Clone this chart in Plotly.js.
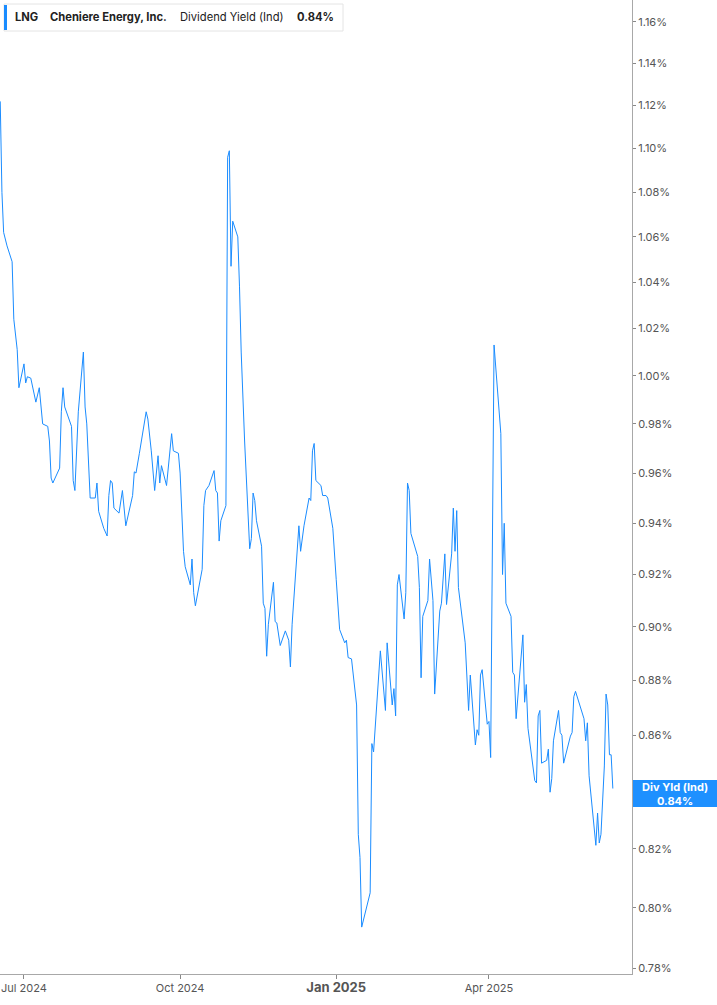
<!DOCTYPE html>
<html>
<head>
<meta charset="utf-8">
<script src="https://cdn.plot.ly/plotly-3.0.1.min.js"></script>
<style>
html,body{margin:0;padding:0;background:#fff;}
#chart{width:717px;height:1005px;}
</style>
</head>
<body>
<div id="chart"></div>
<script>
const ticker = "LNG";
const company = "Cheniere Energy, Inc.";
const metric = "Dividend Yield (Ind)";
const lastLabel = "0.84%";

const dates = [
"2024-06-17","2024-06-18","2024-06-19","2024-06-21","2024-06-24","2024-06-25","2024-06-27","2024-06-28",
"2024-07-01","2024-07-02","2024-07-03","2024-07-05","2024-07-08","2024-07-10","2024-07-12","2024-07-15",
"2024-07-16","2024-07-17","2024-07-18","2024-07-22","2024-07-23","2024-07-24","2024-07-25","2024-07-29",
"2024-07-30","2024-07-31","2024-08-02","2024-08-05","2024-08-06","2024-08-07","2024-08-09","2024-08-12",
"2024-08-13","2024-08-14","2024-08-17","2024-08-19","2024-08-20","2024-08-21","2024-08-22","2024-08-23",
"2024-08-26","2024-08-28","2024-08-30","2024-09-03","2024-09-04","2024-09-05","2024-09-07","2024-09-11",
"2024-09-12","2024-09-14","2024-09-16","2024-09-18","2024-09-19","2024-09-20","2024-09-23","2024-09-24",
"2024-09-25","2024-09-26","2024-09-27","2024-09-30","2024-10-01","2024-10-02","2024-10-03","2024-10-04",
"2024-10-07","2024-10-08","2024-10-09","2024-10-10","2024-10-14","2024-10-15","2024-10-16","2024-10-18",
"2024-10-21","2024-10-22","2024-10-23","2024-10-24","2024-10-25","2024-10-28","2024-10-29","2024-10-30",
"2024-10-31","2024-11-01","2024-11-04","2024-11-05","2024-11-06","2024-11-08","2024-11-11","2024-11-12",
"2024-11-13","2024-11-14","2024-11-15","2024-11-18","2024-11-19","2024-11-20","2024-11-21","2024-11-22",
"2024-11-25","2024-11-26","2024-11-27","2024-11-29","2024-12-02","2024-12-04","2024-12-05","2024-12-06",
"2024-12-09","2024-12-10","2024-12-11","2024-12-13","2024-12-16","2024-12-17","2024-12-18","2024-12-19",
"2024-12-20","2024-12-23","2024-12-24","2024-12-26","2024-12-27","2024-12-28","2024-12-30","2025-01-01",
"2025-01-03","2025-01-06","2025-01-07","2025-01-08","2025-01-10","2025-01-13","2025-01-14","2025-01-15",
"2025-01-16","2025-01-21","2025-01-22","2025-01-23","2025-01-27","2025-01-30","2025-01-31","2025-02-03",
"2025-02-04","2025-02-05","2025-02-06","2025-02-07","2025-02-10","2025-02-11","2025-02-12","2025-02-13",
"2025-02-14","2025-02-18","2025-02-19","2025-02-20","2025-02-21","2025-02-24","2025-02-25","2025-02-27",
"2025-02-28","2025-03-03","2025-03-04","2025-03-06","2025-03-07","2025-03-10","2025-03-11","2025-03-12",
"2025-03-13","2025-03-14","2025-03-18","2025-03-20","2025-03-21","2025-03-24","2025-03-25","2025-03-26",
"2025-03-27","2025-03-28","2025-03-31","2025-04-01","2025-04-02","2025-04-04","2025-04-06","2025-04-08",
"2025-04-09","2025-04-10","2025-04-11","2025-04-14","2025-04-15","2025-04-16","2025-04-17","2025-04-21",
"2025-04-22","2025-04-23","2025-04-24","2025-04-28","2025-04-29","2025-04-30","2025-05-01","2025-05-02",
"2025-05-05","2025-05-06","2025-05-07","2025-05-08","2025-05-09","2025-05-12","2025-05-13","2025-05-14",
"2025-05-15","2025-05-19","2025-05-20","2025-05-21","2025-05-22","2025-05-27","2025-05-28","2025-05-29",
"2025-05-30","2025-06-03","2025-06-04","2025-06-05","2025-06-06","2025-06-08","2025-06-09","2025-06-10",
"2025-06-11","2025-06-12","2025-06-13"
];

const yieldPct = [
1.122,1.080,1.062,1.056,1.049,1.024,1.011,0.995,
1.005,0.997,0.9996,0.999,0.989,0.995,0.980,0.979,
0.973,0.958,0.956,0.962,0.985,0.995,0.987,0.979,
0.957,0.953,0.985,1.010,0.987,0.980,0.950,0.950,
0.956,0.9447,0.938,0.935,0.951,0.957,0.956,0.946,
0.944,0.953,0.939,0.951,0.9605,0.960,0.968,0.985,
0.982,0.969,0.953,0.967,0.956,0.963,0.955,0.963,
0.971,0.976,0.969,0.968,0.960,0.941,0.929,0.923,
0.916,0.926,0.913,0.908,0.922,0.947,0.953,0.955,
0.961,0.953,0.952,0.933,0.941,0.947,1.096,1.099,
1.047,1.067,1.060,1.038,1.010,0.973,0.930,0.934,
0.952,0.949,0.941,0.931,0.909,0.907,0.889,0.901,
0.917,0.902,0.9015,0.893,0.8985,0.895,0.885,0.901,
0.930,0.939,0.929,0.939,0.950,0.949,0.969,0.972,
0.957,0.955,0.951,0.951,0.950,0.9455,0.938,0.918,
0.899,0.894,0.895,0.8885,0.888,0.871,0.825,0.817,
0.7935,0.805,0.857,0.854,0.891,0.869,0.894,0.871,
0.877,0.867,0.916,0.920,0.903,0.913,0.956,0.953,
0.936,0.927,0.915,0.881,0.904,0.910,0.926,0.910,
0.875,0.906,0.909,0.928,0.9085,0.928,0.946,0.929,
0.945,0.915,0.894,0.869,0.882,0.8565,0.862,0.860,
0.882,0.884,0.864,0.865,0.852,1.013,0.993,0.976,
0.920,0.940,0.909,0.904,0.883,0.882,0.866,0.897,
0.872,0.8785,0.8625,0.8438,0.843,0.867,0.869,0.850,
0.851,0.855,0.8397,0.8445,0.858,0.869,0.861,0.860,
0.850,0.8597,0.861,0.874,0.876,0.866,0.858,0.8645,
0.8455,0.8212,0.8324,0.822,0.825,0.849,0.875,0.871,
0.853,0.853,0.841
];

const yTickVals = [0.78,0.80,0.82,0.84,0.86,0.88,0.90,0.92,0.94,0.96,0.98,1.00,1.02,1.04,1.06,1.08,1.10,1.12,1.14,1.16];
const yTickText = ["0.78%","0.80%","0.82%","0.84%","0.86%","0.88%","0.90%","0.92%","0.94%","0.96%","0.98%","1.00%","1.02%","1.04%","1.06%","1.08%","1.10%","1.12%","1.14%","1.16%"];
const xTickVals = ["2024-07-01","2024-10-01","2025-01-01","2025-04-01"];
const xTickText = ["Jul 2024","Oct 2024","<b><span style='font-size:13px'>Jan 2025</span></b>","Apr 2025"];

const W = 632, H = 974;
const px = v => v / W;
const py = v => 1 - v / H;

const trace = {
  x: dates, y: yieldPct, type: "scatter", mode: "lines",
  line: {color: "#1a8cff", width: 1},
  hoverinfo: "skip"
};

const legendFont = {family: "Inter, sans-serif", size: 11.2, color: "#222"};

const layout = {
  width: 717, height: 1005,
  margin: {l: 0, r: 85, t: 0, b: 31, pad: 0},
  paper_bgcolor: "#fff", plot_bgcolor: "#fff",
  showlegend: false,
  font: {family: "Inter, 'DejaVu Sans', sans-serif", size: 11, color: "#555"},
  xaxis: {
    type: "date",
    range: ["2024-06-16 20:40", "2025-06-24 07:00"],
    tickmode: "array", tickvals: xTickVals, ticktext: xTickText,
    showgrid: false, zeroline: false,
    showline: true, linecolor: "#a8a8a8", linewidth: 1,
    ticks: "outside", ticklen: 4, tickcolor: "#888", tickwidth: 1,
    tickfont: {family: "Inter, sans-serif", size: 11, color: "#555"},
    fixedrange: true
  },
  yaxis: {
    type: "log", side: "right",
    range: [-0.108998, 0.068465],
    tickmode: "array", tickvals: yTickVals, ticktext: yTickText,
    showgrid: false, zeroline: false,
    showline: true, linecolor: "#a8a8a8", linewidth: 1,
    ticks: "outside", ticklen: 3, tickcolor: "#888", tickwidth: 1,
    tickfont: {family: "Inter, sans-serif", size: 11, color: "#555"},
    fixedrange: true
  },
  shapes: [
    {type: "rect", xref: "paper", yref: "paper", x0: px(4), x1: px(343), y0: py(31), y1: py(4),
     fillcolor: "#fff", line: {color: "#e4e4e4", width: 1}, layer: "above"},
    {type: "rect", xref: "paper", yref: "paper", x0: px(4), x1: px(7), y0: py(30), y1: py(5),
     fillcolor: "#1a8cff", line: {width: 0}, layer: "above"},
    {type: "rect", xref: "paper", yref: "paper", x0: px(633), x1: px(717), y0: py(807), y1: py(780),
     fillcolor: "#1e90ff", line: {width: 0}, layer: "above"}
  ],
  annotations: [
    {xref: "paper", yref: "paper", x: px(13), y: py(17), xanchor: "left", yanchor: "middle", showarrow: false,
     text: "<b>" + ticker + "</b>", font: legendFont},
    {xref: "paper", yref: "paper", x: px(48), y: py(17), xanchor: "left", yanchor: "middle", showarrow: false,
     text: "<b>" + company + "</b>", font: legendFont},
    {xref: "paper", yref: "paper", x: px(178), y: py(17), xanchor: "left", yanchor: "middle", showarrow: false,
     text: metric, font: legendFont},
    {xref: "paper", yref: "paper", x: px(295), y: py(17), xanchor: "left", yanchor: "middle", showarrow: false,
     text: "<b>" + lastLabel + "</b>", font: legendFont},
    {xref: "paper", yref: "paper", x: px(675), y: py(793.5), xanchor: "center", yanchor: "middle", showarrow: false,
     text: "<b>Div Yld (Ind)</b><br><b>" + lastLabel + "</b>",
     font: {family: "Inter, sans-serif", size: 11, color: "#fff"}}
  ]
};

Plotly.newPlot("chart", [trace], layout, {displayModeBar: false, staticPlot: true});
</script>
</body>
</html>
